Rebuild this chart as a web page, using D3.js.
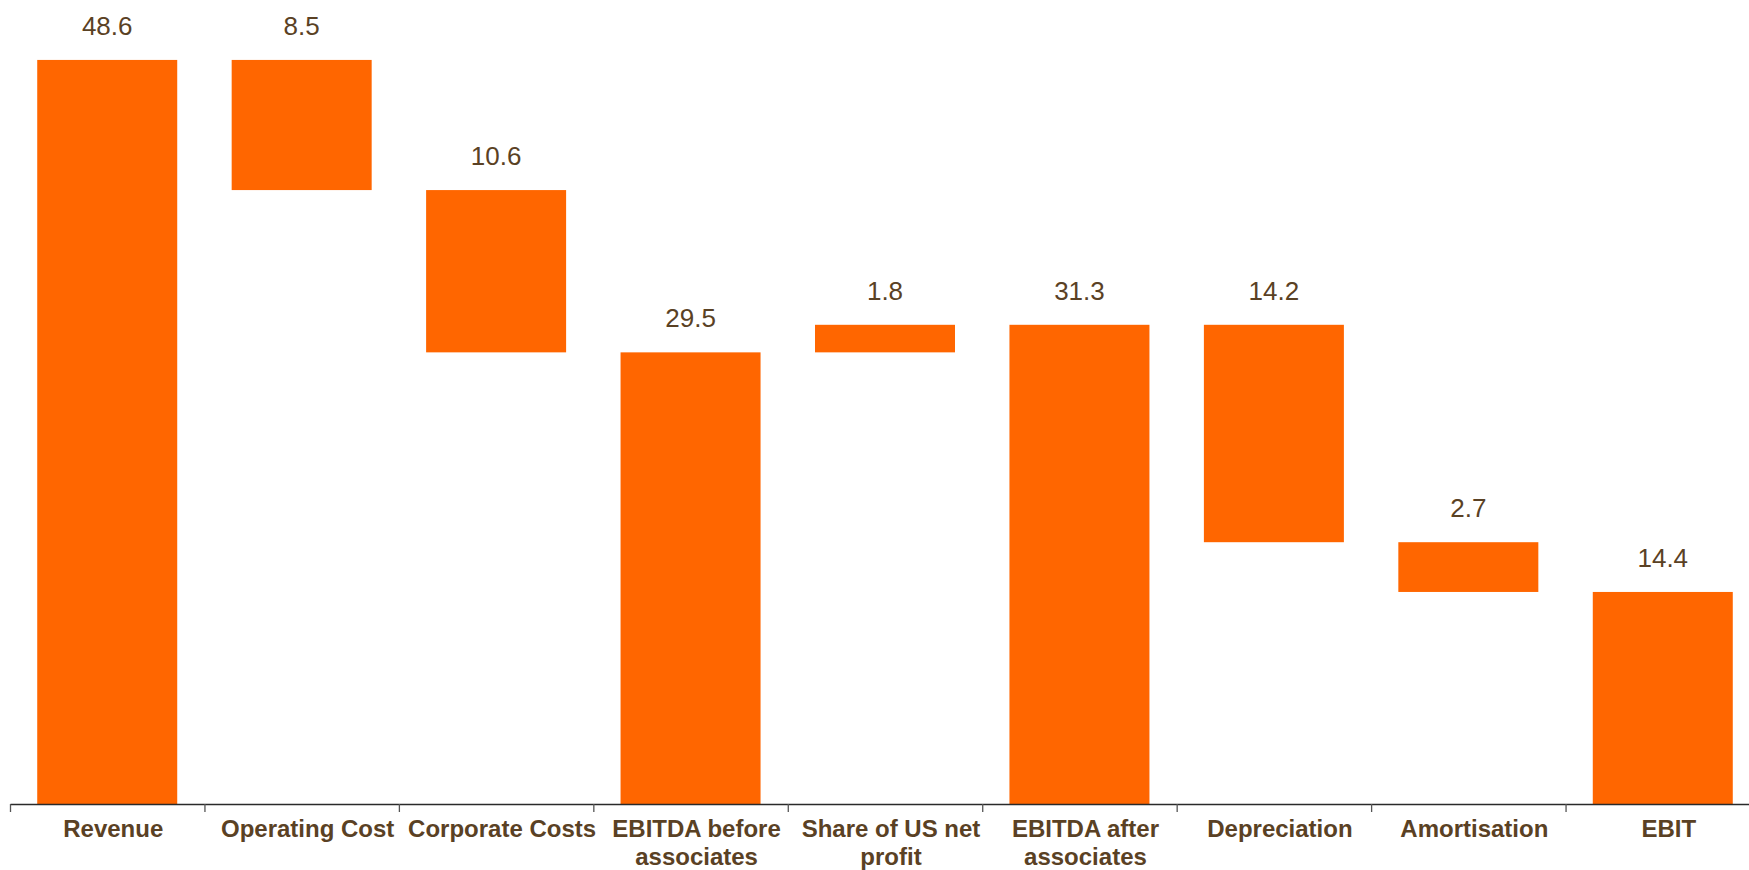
<!DOCTYPE html>
<html>
<head>
<meta charset="utf-8">
<script src="https://cdn.jsdelivr.net/npm/d3@7"></script>
<style>
  html, body { margin: 0; padding: 0; background: #fff; overflow: hidden; }
  svg { display: block; }
</style>
</head>
<body>
<svg id="chart" width="1749" height="870"></svg>
<script>
const categories = ["Revenue", "Operating Cost", "Corporate Costs", "EBITDA before associates",
  "Share of US net profit", "EBITDA after associates", "Depreciation", "Amortisation", "EBIT"];
// bar heights as drawn in the picture
const values = [48.6, 8.5, 10.6, 29.5, 1.8, 31.3, 14.2, 3.25, 13.85];
const kinds = ["total", "decrease", "decrease", "total", "increase", "total", "decrease", "decrease", "total"];
// value labels as printed
const valueLabels = ["48.6", "8.5", "10.6", "29.5", "1.8", "31.3", "14.2", "2.7", "14.4"];

// compute waterfall segments
let running = 0;
const segs = categories.map((c, i) => {
  let lo, hi;
  if (kinds[i] === "total") { lo = 0; hi = values[i]; running = values[i]; }
  else if (kinds[i] === "decrease") { hi = running; lo = running - values[i]; running = lo; }
  else { lo = running; hi = running + values[i]; running = hi; }
  return { cat: c, lo, hi, label: valueLabels[i] };
});

const svg = d3.select("#chart");
const left = 10, right = 1760, axisY = 804, topY = 38.5;
const x = d3.scaleBand().domain(categories).range([left, right]).paddingInner(0.28).paddingOuter(0.14);
const xi = d3.scaleLinear().domain([0, categories.length]).range([left, right]);
const y = d3.scaleLinear().domain([0, 50]).range([axisY, topY]);

const barColor = "#FF6600";
const textColor = "#5A4124";

svg.append("g").selectAll("rect").data(segs).join("rect")
  .attr("x", d => x(d.cat))
  .attr("width", x.bandwidth())
  .attr("y", d => y(d.hi))
  .attr("height", d => y(d.lo) - y(d.hi))
  .attr("fill", barColor);

svg.append("g").selectAll("text").data(segs).join("text")
  .attr("x", d => x(d.cat) + x.bandwidth() / 2)
  .attr("y", d => y(d.hi) - 25)
  .attr("text-anchor", "middle")
  .attr("font-family", "Liberation Sans, Arial, sans-serif")
  .attr("font-size", 26)
  .attr("fill", textColor)
  .text(d => d.label);

// axis with ticks at category boundaries
const axis = svg.append("g").attr("transform", `translate(0,${axisY})`)
  .call(d3.axisBottom(xi).tickValues(d3.range(categories.length + 1)).tickFormat("").tickSize(8).tickSizeOuter(0));
axis.select("path").attr("stroke", "#2a2a2a").attr("stroke-width", 1.3);
axis.selectAll("line").attr("stroke", "#555").attr("stroke-width", 1.3);

// category labels with wrapping
const labels = svg.append("g").selectAll("text").data(categories).join("text")
  .attr("text-anchor", "middle")
  .attr("font-family", "Liberation Sans, Arial, sans-serif")
  .attr("font-weight", "bold")
  .attr("font-size", 24)
  .attr("fill", textColor)
  .attr("transform", d => `translate(${x(d) + x.bandwidth() / 2 + 6},837)`);

labels.each(function(d) {
  const t = d3.select(this);
  const words = d.split(" ");
  let lines = [], cur = [];
  const tspan = t.append("tspan").attr("x", 0);
  words.forEach(w => {
    cur.push(w);
    tspan.text(cur.join(" "));
    if (tspan.node().getComputedTextLength() > 192 && cur.length > 1) {
      cur.pop();
      lines.push(cur.join(" "));
      cur = [w];
    }
  });
  lines.push(cur.join(" "));
  tspan.remove();
  lines.forEach((ln, k) => {
    t.append("tspan").attr("x", 0).attr("dy", k === 0 ? 0 : 28).text(ln);
  });
});
</script>
</body>
</html>
